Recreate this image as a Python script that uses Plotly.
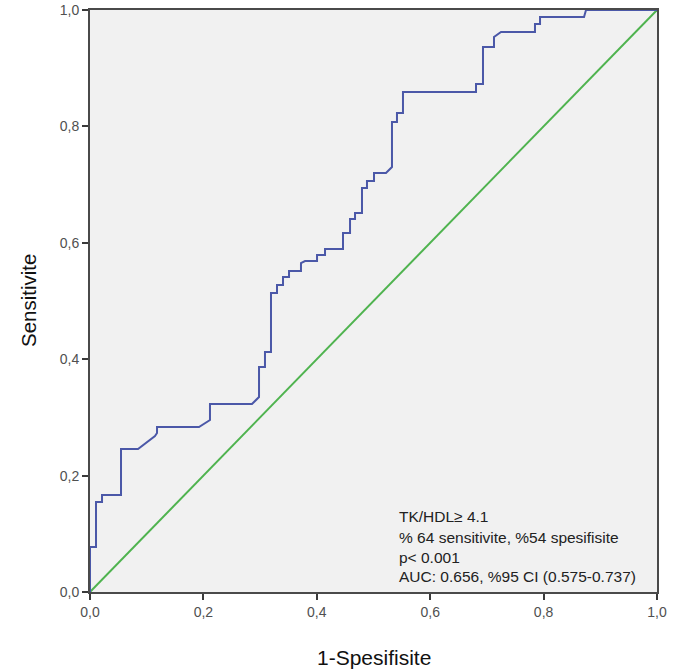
import plotly.graph_objects as go

# ROC curve (1 - specificity, sensitivity)
fpr = [0, 0, 0.0106, 0.0106, 0.0212, 0.0212, 0.0547, 0.0547, 0.0847, 0.1058, 0.1146,
       0.1182, 0.1182, 0.1922, 0.2116, 0.2116, 0.2857, 0.2981, 0.2981, 0.3086, 0.3086,
       0.3192, 0.3192, 0.3298, 0.3298, 0.3404, 0.3404, 0.3510, 0.3510, 0.3721, 0.3721,
       0.3792, 0.4004, 0.4004, 0.4145, 0.4145, 0.4462, 0.4462, 0.4586, 0.4586, 0.4674,
       0.4674, 0.4797, 0.4797, 0.4885, 0.4885, 0.5009, 0.5009, 0.5220, 0.5326, 0.5326,
       0.5414, 0.5414, 0.5520, 0.5520, 0.6808, 0.6808, 0.6931, 0.6931, 0.7125, 0.7125,
       0.7249, 0.7848, 0.7848, 0.7937, 0.7937, 0.8713, 0.8748, 1.0]
tpr = [0, 0.0773, 0.0773, 0.1546, 0.1546, 0.1667, 0.1667, 0.2457, 0.2457, 0.2612, 0.2680,
       0.2732, 0.2835, 0.2835, 0.2955, 0.3230, 0.3230, 0.3351, 0.3866, 0.3866, 0.4124,
       0.4124, 0.5137, 0.5137, 0.5275, 0.5275, 0.5412, 0.5412, 0.5515, 0.5515, 0.5653,
       0.5687, 0.5687, 0.5790, 0.5790, 0.5893, 0.5893, 0.6168, 0.6168, 0.6409, 0.6409,
       0.6512, 0.6512, 0.6942, 0.6942, 0.7062, 0.7062, 0.7199, 0.7199, 0.7302, 0.8076,
       0.8076, 0.8230, 0.8230, 0.8591, 0.8591, 0.8729, 0.8729, 0.9364, 0.9364, 0.9536,
       0.9622, 0.9622, 0.9759, 0.9759, 0.9880, 0.9880, 1.0, 1.0]
ref_x = [0, 1]
ref_y = [0, 1]

tick_vals = [0, 0.2, 0.4, 0.6, 0.8, 1.0]
tick_text = ["0,0", "0,2", "0,4", "0,6", "0,8", "1,0"]

info_lines = ["TK/HDL\u2265 4.1",
              "% 64 sensitivite, %54 spesifisite",
              "p< 0.001",
              "AUC: 0.656, %95 CI (0.575-0.737)"]
info_y = [0.1289, 0.0945, 0.0601, 0.0258]

FONT = "Liberation Sans, Arial, Helvetica, sans-serif"

fig = go.Figure()
fig.add_trace(go.Scatter(x=ref_x, y=ref_y, mode="lines",
                         line=dict(color="#4fb34f", width=2), cliponaxis=False,
                         showlegend=False, hoverinfo="skip"))
fig.add_trace(go.Scatter(x=fpr, y=tpr, mode="lines",
                         line=dict(color="#4b58a8", width=2), cliponaxis=False,
                         showlegend=False))

for t, yy in zip(info_lines, info_y):
    fig.add_annotation(x=0.541, y=yy, xref="x", yref="y", text=t, showarrow=False,
                       xanchor="left", yanchor="middle",
                       font=dict(family=FONT, size=15.5, color="#222"))

fig.add_annotation(x=0.5, y=0, xref="paper", yref="paper", text="1-Spesifisite",
                   showarrow=False, xanchor="center", yanchor="middle", yshift=-65,
                   font=dict(family=FONT, size=21, color="#111"))
fig.add_annotation(x=0, y=0.5, xref="paper", yref="paper", text="Sensitivite",
                   showarrow=False, xanchor="center", yanchor="middle", xshift=-62,
                   textangle=-90, font=dict(family=FONT, size=20.5, color="#111"))

axis_common = dict(range=[0, 1], tickvals=tick_vals, ticktext=tick_text,
                   automargin=False,
                   showgrid=False, zeroline=False, showline=True, mirror=True,
                   linecolor="#4a4a4a", linewidth=1.8, ticks="outside", ticklen=6,
                   tickwidth=1.5, tickcolor="#3a3a3a",
                   tickfont=dict(family=FONT, size=14, color="#505050"))

fig.update_layout(
    width=683, height=670,
    margin=dict(l=90, r=26, t=10, b=78),
    paper_bgcolor="white", plot_bgcolor="#f1f1f1",
    xaxis=axis_common, yaxis=axis_common,
)

fig.write_html("out.html", config={"displayModeBar": False},
               post_script="document.body.style.margin='0';document.body.style.padding='0';document.body.style.overflow='hidden';")
